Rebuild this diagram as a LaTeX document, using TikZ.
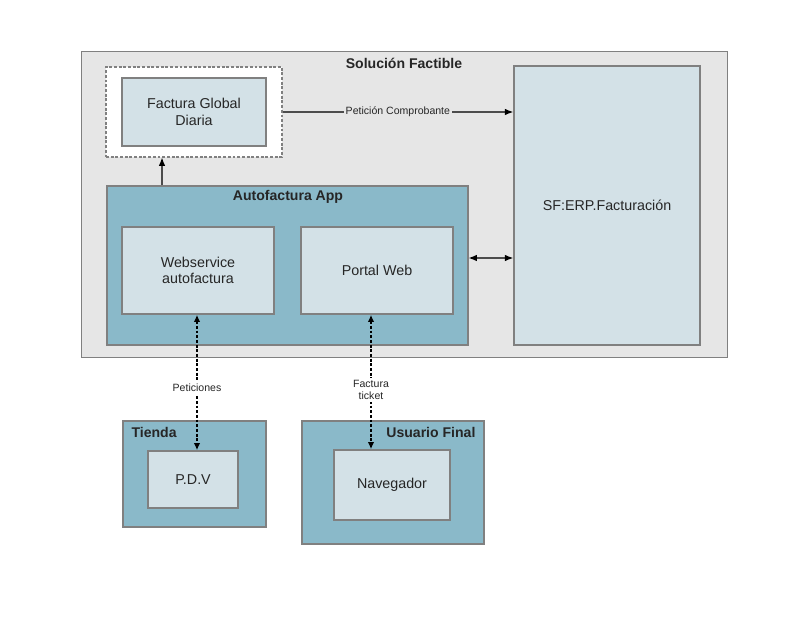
\documentclass[tikz,border=0pt]{standalone}
\usepackage{fontspec}
\setmainfont{Liberation Sans}
\usepackage{xcolor}
\usetikzlibrary{arrows.meta,positioning}
\definecolor{zonebg}{HTML}{E6E6E6}
\definecolor{appteal}{HTML}{8AB9C9}
\definecolor{compfill}{HTML}{D3E1E7}
\definecolor{edgegray}{HTML}{808080}
\tikzset{
  zone/.style={rectangle, draw=edgegray, fill=zonebg, line width=0.8pt, inner sep=0pt},
  group/.style={rectangle, draw=edgegray, fill=appteal, line width=1pt, inner sep=0pt},
  holder/.style={rectangle, draw=edgegray, fill=white, line width=1pt, dash pattern=on 2.5pt off 1.5pt, inner sep=0pt},
  comp/.style={rectangle, draw=edgegray, fill=compfill, line width=1.4pt, align=center, font=\fontsize{12.2}{14}\selectfont, text=black!85},
  title/.style={font=\bfseries\fontsize{12}{14}\selectfont, text=black!85},
  lbl/.style={font=\fontsize{9}{10.5}\selectfont, align=center, text=black!85, inner sep=1.5pt},
  tip/.style={Latex[length=7pt,width=6pt,fill=black,color=black]},
  line/.style={-{Latex[length=7pt,width=5.5pt,color=black]}, line width=0.9pt, black!70},
  twoway/.style={{Latex[length=7pt,width=5.5pt,color=black]}-{Latex[length=7pt,width=5.5pt,color=black]}, line width=0.9pt, black!70},
  dotline/.style={{Latex[length=6pt,width=5.5pt]}-{Latex[length=6pt,width=5.5pt]}, line width=1.5pt, black, dash pattern=on 2.5pt off 1.5pt}
}

\begin{document}
\begin{tikzpicture}[x=0.03cm, y=-0.03cm]
  \useasboundingbox (0,0) rectangle (800,618);
  % main zone
  \node[zone, minimum width=19.38cm, minimum height=9.18cm] (sol) at (404,204) {};
  \node[title] at (404,63) {Solución Factible};
  \node[holder, minimum width=5.28cm, minimum height=2.7cm] (dashed) at (194,112) {};
  \node[comp, minimum width=4.32cm, minimum height=2.04cm] (fgd) at (194,112) {Factura Global\\Diaria};
  \node[comp, minimum width=5.58cm, minimum height=8.37cm] (sf) at (607,205.5) {SF:ERP.Facturación};
  % autofactura app
  \node[group, minimum width=10.83cm, minimum height=4.77cm] (app) at (287.5,265.5) {};
  \node[title] at (288,197) {Autofactura App};
  \node[comp, minimum width=4.56cm, minimum height=2.61cm] (ws) at (198,270.5) {Webservice\\autofactura};
  \node[comp, minimum width=4.56cm, minimum height=2.61cm] (portal) at (377,270.5) {Portal Web};
  % clients
  \node[group, minimum width=4.29cm, minimum height=3.18cm] (tienda) at (194.5,474) {};
  \node[title, anchor=west] at (tienda.north west) [yshift=-0.35cm, xshift=0.15cm] {Tienda};
  \node[comp, minimum width=2.7cm, minimum height=1.71cm] (pdv) at (193,479.5) {P.D.V};
  \node[group, minimum width=5.46cm, minimum height=3.69cm] (usuario) at (393,482.5) {};
  \node[title, anchor=east] at (usuario.north east) [yshift=-0.35cm, xshift=-0.15cm] {Usuario Final};
  \node[comp, minimum width=3.48cm, minimum height=2.1cm] (nav) at (392,485) {Navegador};
  % connectors
  \coordinate (upx) at (162,0);
  \coordinate (duo) at (0,258);
  \coordinate (navx) at (371,0);
  \draw[line] (app.north -| upx) -- (dashed.south -| upx);
  \draw[line] (dashed.east) -- node[lbl, fill=zonebg] {Petición Comprobante} (dashed.east -| sf.west);
  \draw[twoway] (app.east |- duo) -- (sf.west |- duo);
  \draw[dotline] (ws.south -| 197,0) -- node[lbl, fill=white, pos=0.54] {Peticiones} (pdv.north -| 197,0);
  \draw[dotline] (portal.south -| navx) -- node[lbl, fill=white, pos=0.56] {Factura\\ticket} (nav.north -| navx);
\end{tikzpicture}
\end{document}
